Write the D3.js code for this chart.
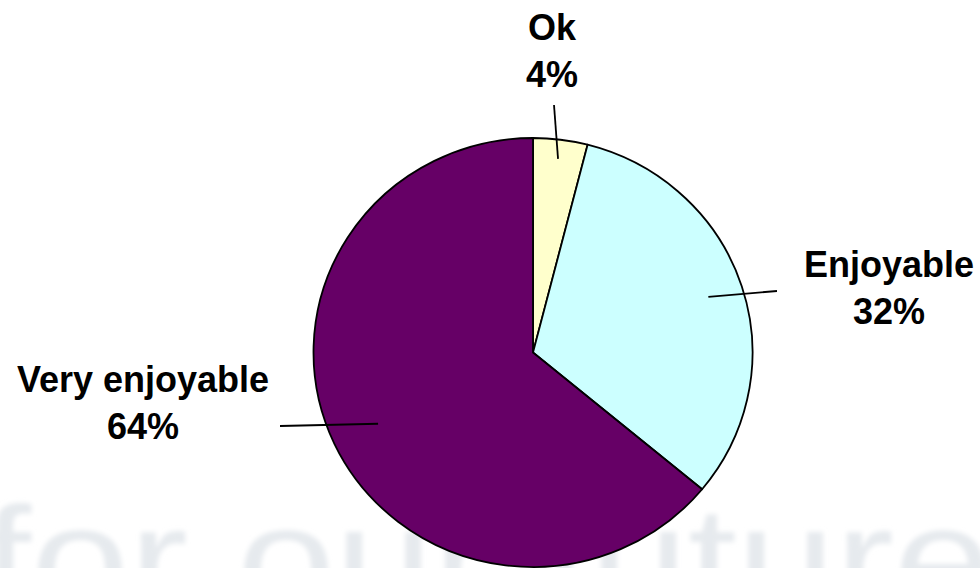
<!DOCTYPE html>
<html>
<head>
<meta charset="utf-8">
<script src="https://cdn.jsdelivr.net/npm/d3@7/dist/d3.min.js"></script>
<style>
  html, body { margin: 0; padding: 0; background: #ffffff; }
  svg { display: block; }
</style>
</head>
<body>
<svg id="chart" width="980" height="568"></svg>
<script>
// ---- data ----
const categories = ["Ok", "Enjoyable", "Very enjoyable"];
const values = [4, 32, 64];
const percentLabels = ["4%", "32%", "64%"];
const colors = ["#FFFFCC", "#CCFFFF", "#660066"];

// ---- layout (positions only) ----
const W = 980, H = 568;
const cx = 533, cy = 352.5, rx = 219.5, ry = 214.5;
// label anchor (center x, first-line baseline) and leader outer tip
const labelLayout = [
  { x: 552, y: 40, tipX: 554, tipY: 105, lead: 0.91 },
  { x: 889, y: 277, tipX: 777, tipY: 291, lead: 0.84 },
  { x: 143, y: 392, tipX: 280, tipY: 426, lead: 0.78 }
];
const lineGap = 47;

const svg = d3.select("#chart");

// faint background watermark
const defs = svg.append("defs");
defs.append("filter").attr("id", "blur")
  .attr("x", "-10%").attr("y", "-30%").attr("width", "120%").attr("height", "160%")
  .append("feGaussianBlur").attr("stdDeviation", 2.4);
svg.append("text")
  .attr("x", -18).attr("y", 612)
  .attr("font-family", "'Liberation Sans Narrow', 'Liberation Sans', Arial, sans-serif")
  .attr("font-size", 150)
  .attr("textLength", 1010)
  .attr("lengthAdjust", "spacingAndGlyphs")
  .attr("fill", "#e6eaee")
  .attr("filter", "url(#blur)")
  .text("for our future");

const pie = d3.pie().sort(null).value(d => d)
  .startAngle(0).endAngle(2 * Math.PI);
const arcs = pie(values);
const arc = d3.arc().innerRadius(0).outerRadius(rx);

const g = svg.append("g")
  .attr("transform", `translate(${cx},${cy}) scale(1,${ry / rx})`);

g.selectAll("path.slice")
  .data(arcs)
  .enter().append("path")
  .attr("class", "slice")
  .attr("d", arc)
  .attr("fill", (d, i) => colors[i])
  .attr("stroke", "#000")
  .attr("stroke-width", 1.8)
  .attr("stroke-linejoin", "round")
  .attr("vector-effect", "non-scaling-stroke");

// leader lines: inner end from the slice's mid angle
arcs.forEach((d, i) => {
  const mid = (d.startAngle + d.endAngle) / 2;
  const L = labelLayout[i];
  const r = rx * L.lead;
  const ix = cx + r * Math.sin(mid);
  const iy = cy - r * Math.cos(mid) * (ry / rx);
  svg.append("line")
    .attr("x1", L.tipX).attr("y1", L.tipY)
    .attr("x2", ix).attr("y2", iy)
    .attr("stroke", "#000").attr("stroke-width", 1.8);
});

// labels
arcs.forEach((d, i) => {
  const L = labelLayout[i];
  const t = svg.append("text")
    .attr("text-anchor", "middle")
    .attr("font-family", "'Liberation Sans', Arial, sans-serif")
    .attr("font-weight", "bold")
    .attr("font-size", 36)
    .attr("fill", "#000")
    .attr("transform", `translate(${L.x},${L.y})`);
  t.append("tspan").attr("x", 0).attr("y", 0).text(categories[i]);
  t.append("tspan").attr("x", 0).attr("y", lineGap).text(percentLabels[i]);
});
</script>
</body>
</html>
